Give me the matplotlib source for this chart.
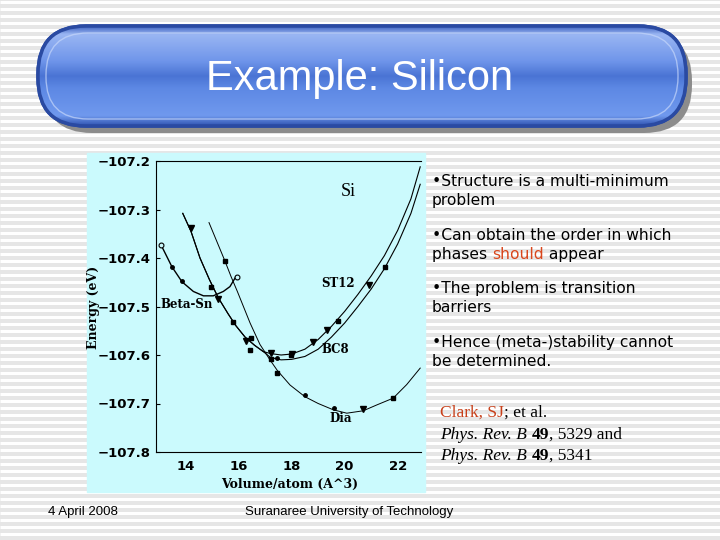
import numpy as np
import matplotlib.pyplot as plt
from matplotlib.patches import FancyBboxPatch, Rectangle
from matplotlib.colors import LinearSegmentedColormap

# curves: volume (A^3) vs energy (eV)
beta_v = [13.07, 13.48, 13.86, 14.29, 14.67, 15.04, 15.42, 15.67, 15.90]
beta_e = [-107.373, -107.418, -107.449, -107.469, -107.478, -107.478, -107.469, -107.459, -107.438]

# shared left branch of the two upper-right curves
branch_v = [13.89, 14.20, 14.54, 14.90, 15.23, 15.60, 15.90, 16.24, 16.60, 16.93]
branch_e = [-107.308, -107.345, -107.400, -107.445, -107.482, -107.515, -107.540, -107.563, -107.580, -107.593]

st12_v = [17.2, 17.6, 18.0, 18.5, 19.0, 19.5, 20.0, 20.5, 21.0, 21.5, 22.0, 22.5, 22.85]
st12_e = [-107.597, -107.600, -107.598, -107.588, -107.568, -107.541, -107.510,
          -107.475, -107.437, -107.395, -107.343, -107.278, -107.212]
bc8_v = [17.2, 17.6, 18.0, 18.5, 19.0, 19.5, 20.0, 20.5, 21.0, 21.5, 22.0, 22.5, 22.85]
bc8_e = [-107.605, -107.610, -107.609, -107.603, -107.588, -107.563, -107.534,
         -107.500, -107.464, -107.422, -107.371, -107.308, -107.248]

dia_v = [14.88, 15.48, 15.71, 15.95, 16.43, 16.80, 17.18, 17.46, 17.94, 18.50,
         19.0, 19.57, 20.08, 20.70, 21.21, 21.83, 22.34, 22.85]
dia_e = [-107.327, -107.406, -107.438, -107.469, -107.534, -107.578, -107.610, -107.632, -107.662, -107.686,
         -107.700, -107.713, -107.720, -107.715, -107.703, -107.689, -107.661, -107.627]

# data points
tri_v = [14.20, 15.21, 16.28, 17.21, 18.02, 18.79, 19.35, 20.68, 20.92]
tri_e = [-107.339, -107.484, -107.572, -107.595, -107.598, -107.574, -107.548, -107.712, -107.455]
sq_v = [14.95, 15.48, 15.78, 16.47, 16.42, 17.22, 17.45, 17.99, 19.76, 21.52, 21.84]
sq_e = [-107.459, -107.406, -107.532, -107.564, -107.589, -107.608, -107.638, -107.600, -107.529, -107.419, -107.689]
dot_v = [13.48, 13.87, 17.45, 18.50, 19.58]
dot_e = [-107.419, -107.447, -107.607, -107.683, -107.710]
open_v = [13.08, 15.93]
open_e = [-107.374, -107.440]

bullets = [
    [("\u2022Structure is a multi-minimum", "black")],
    [("problem", "black")],
    [("\u2022Can obtain the order in which", "black")],
    [("phases ", "black"), ("should", "#d9461c"), (" appear", "black")],
    [("\u2022The problem is transition", "black")],
    [("barriers", "black")],
    [("\u2022Hence (meta-)stability cannot", "black")],
    [("be determined.", "black")],
]
bullet_y = [186, 205, 240, 259, 293, 312, 347, 366]

fig = plt.figure(figsize=(7.2, 5.4), dpi=100)

# slide background, pixel coordinates
bg = fig.add_axes([0, 0, 1, 1])
bg.set_xlim(0, 720)
bg.set_ylim(540, 0)
bg.axis('off')
bg.add_patch(Rectangle((0, 0), 720, 540, color='#e6e6e6', zorder=0))
bg.hlines(np.arange(1.5, 540, 7), 0, 720, color='white', lw=2.2, zorder=0)

# title pill
bg.add_patch(FancyBboxPatch((44, 33), 648, 100, boxstyle='round,pad=0,rounding_size=48',
                            fc='#8c8c8c', ec='none', zorder=1))
pill = FancyBboxPatch((38, 26), 648, 100, boxstyle='round,pad=0,rounding_size=48',
                      fc='#5a84e0', ec='#2a4aa2', lw=2.5, zorder=2)
bg.add_patch(pill)
cmap = LinearSegmentedColormap.from_list('pill', [(0, '#3f63c0'), (0.08, '#9ab6f3'), (0.35, '#6f95ea'),
                                                  (0.5, '#4a74d4'), (0.62, '#5d88e4'), (0.9, '#7099ee'),
                                                  (1, '#2f52b0')])
grad = bg.imshow(np.linspace(0, 1, 200).reshape(-1, 1), cmap=cmap, aspect='auto',
                 extent=(38, 686, 126, 26), zorder=2)
grad.set_clip_path(pill)
bg.add_patch(FancyBboxPatch((38, 26), 648, 100, boxstyle='round,pad=0,rounding_size=48',
                            fc='none', ec='#2a4aa2', lw=2.5, zorder=3))
bg.add_patch(FancyBboxPatch((46, 33), 632, 86, boxstyle='round,pad=0,rounding_size=42',
                            fc='none', ec='#c5d6fa', lw=1.0, alpha=0.7, zorder=3))
bg.text(360, 90, 'Example: Silicon', color='white', fontsize=30, family='Liberation Sans',
        ha='center', va='baseline', zorder=4)

# scanned plot panel
bg.add_patch(Rectangle((87, 153), 338, 339, color='#cbfafd', zorder=1))
bg.text(93, 307, 'Energy (eV)', rotation=90, ha='center', va='center',
        family='DejaVu Serif', weight='bold', fontsize=9)
bg.text(290, 484, 'Volume/atom (A^3)', ha='center', va='center',
        family='DejaVu Serif', weight='bold', fontsize=9)

ax = fig.add_axes([156 / 720, 1 - 452 / 540, 265 / 720, 291 / 540])
ax.set_facecolor('none')
ax.plot(beta_v, beta_e, 'k-', lw=1.0)
ax.plot(branch_v + st12_v, branch_e + st12_e, 'k-', lw=0.8)
ax.plot(branch_v + bc8_v, branch_e + bc8_e, 'k-', lw=0.8)
ax.plot(dia_v, dia_e, 'k-', lw=0.7)
ax.plot(tri_v, tri_e, 'kv', ms=4)
ax.plot(sq_v, sq_e, 'ks', ms=3)
ax.plot(dot_v, dot_e, 'ko', ms=2.5)
ax.plot(open_v, open_e, 'ko', ms=3.5, mfc='#cbfafd', mew=0.8)

lab = dict(family='DejaVu Serif', weight='bold', fontsize=8.5, ha='center', va='center')
ax.text(20.14, -107.263, 'Si', family='Liberation Serif', fontsize=13, ha='center', va='center')
ax.text(19.76, -107.452, 'ST12', **lab)
ax.text(19.66, -107.589, 'BC8', **lab)
ax.text(19.86, -107.730, 'Dia', **lab)
ax.text(14.04, -107.495, 'Beta-Sn', **lab)

ax.set_xlim(12.88, 22.88)
ax.set_ylim(-107.8, -107.2)
ax.set_xticks([14, 16, 18, 20, 22])
ax.set_yticks(np.arange(-107.8, -107.15, 0.1))
ax.yaxis.set_major_formatter(plt.FuncFormatter(lambda v, p: '\u2212%.1f' % abs(v)))
ax.spines['right'].set_visible(False)
ax.tick_params(axis='y', direction='in', length=3, pad=4)
ax.tick_params(axis='x', length=0, pad=6)
for t in ax.get_xticklabels() + ax.get_yticklabels():
    t.set_fontweight('bold')
    t.set_fontsize(9.5)

# bullet text on the right
r = fig.canvas.get_renderer()
for parts, y in zip(bullets, bullet_y):
    x = 432
    for s, c in parts:
        t = bg.text(x, y, s, color=c, fontsize=11.2, family='DejaVu Sans', va='baseline')
        x = t.get_window_extent(r).x1

cite = [
    [("Clark, SJ", dict(color='#c8401a')), ("; et al.", {})],
    [("Phys. Rev. B ", dict(style='italic')), ("49", dict(weight='bold')), (", 5329 and", {})],
    [("Phys. Rev. B ", dict(style='italic')), ("49", dict(weight='bold')), (", 5341", {})],
]
for parts, y in zip(cite, [417, 439, 460]):
    x = 440
    for s, kw in parts:
        t = bg.text(x, y, s, fontsize=12.5, family='Liberation Serif', va='baseline', **kw)
        x = t.get_window_extent(r).x1

bg.text(48, 515, '4 April 2008', fontsize=9.5, family='Liberation Sans', va='baseline')
bg.text(245, 515, 'Suranaree University of Technology', fontsize=9.5, family='Liberation Sans',
        va='baseline')

fig.savefig('out.png', dpi=100)
